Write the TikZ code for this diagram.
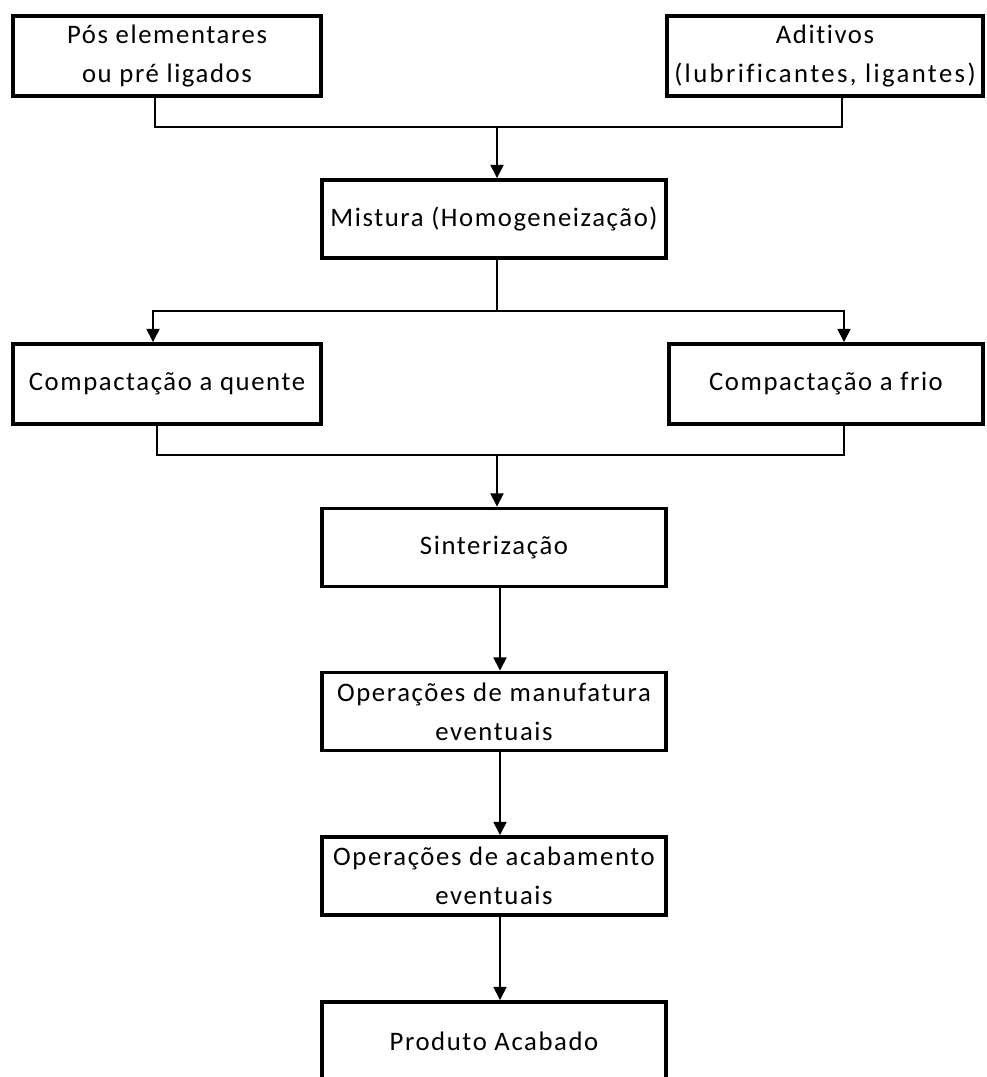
\documentclass[tikz,border=0pt]{standalone}
\usepackage{fontspec}
\setmainfont{Carlito}[Ligatures=NoCommon, LetterSpace=6]
\usepackage{tikz}
\usetikzlibrary{arrows.meta,positioning}

\begin{document}
\begin{tikzpicture}[
    caixa/.style={rectangle, draw=black, line width=2.8pt, align=center, inner sep=0pt, minimum width=8.6cm, minimum height=1.95cm, font=\fontsize{19}{28}\selectfont},
    lateral/.style={caixa, minimum width=7.7cm, minimum height=2cm},
    linha/.style={line width=1.1pt},
    seta/.style={linha, -{Triangle[width=0.33cm, length=0.33cm]}}
]
\path[use as bounding box, clip] (0,0) rectangle (24.675,-26.925);
% Materias-primas
\node[lateral] (pos) at (4.175,-1.4) {Pós elementares\\ou pré ligados};
\node[lateral, right of=pos, node distance=16.45cm, minimum width=7.9cm] (adit) {Aditivos\\{\addfontfeatures{LetterSpace=9}(lubrificantes, ligantes)}};
% Mistura
\node[caixa] (mist) at (12.35,-5.475) {Mistura (Homogeneização)};
% Compactacao
\node[lateral] (quente) at (4.175,-9.6) {Compactação a quente};
\node[lateral, right of=quente, node distance=16.475cm, minimum width=7.85cm] (frio) {Compactação a frio};
% Sinterizacao e operacoes
\node[caixa, below of=mist, node distance=8.2125cm] (sint) {Sinterização};
\node[caixa, below of=sint, node distance=4.1cm] (manuf) {Operações de manufatura\\eventuais};
\node[caixa, below of=manuf, node distance=4.1125cm] (acab) {Operações de acabamento\\eventuais};
\node[caixa, below of=acab, node distance=4.125cm] (prod) {Produto Acabado};
% Juncoes
\coordinate (j1) at (12.425,-3.175);
\coordinate (j2) at (12.425,-7.775);
\coordinate (j3) at (12.425,-11.375);
% Setas
\draw[linha] ([xshift=-0.3cm]pos.south) |- (j1) -| ([xshift=0.425cm]adit.south);
\draw[seta] (j1) -- (j1 |- mist.north);
\draw[linha] (mist.south -| j1) -- (j2);
\draw[seta] (j2) -| ([xshift=-0.35cm]quente.north);
\draw[seta] (j2) -| ([xshift=0.45cm]frio.north);
\draw[linha] ([xshift=-0.25cm]quente.south) |- (j3) -| ([xshift=0.45cm]frio.south);
\draw[seta] (j3) -- (j3 |- sint.north);
\draw[seta] ([xshift=0.15cm]sint.south) -- ([xshift=0.15cm]manuf.north);
\draw[seta] ([xshift=0.15cm]manuf.south) -- ([xshift=0.15cm]acab.north);
\draw[seta] ([xshift=0.15cm]acab.south) -- ([xshift=0.15cm]prod.north);
\end{tikzpicture}
\end{document}
